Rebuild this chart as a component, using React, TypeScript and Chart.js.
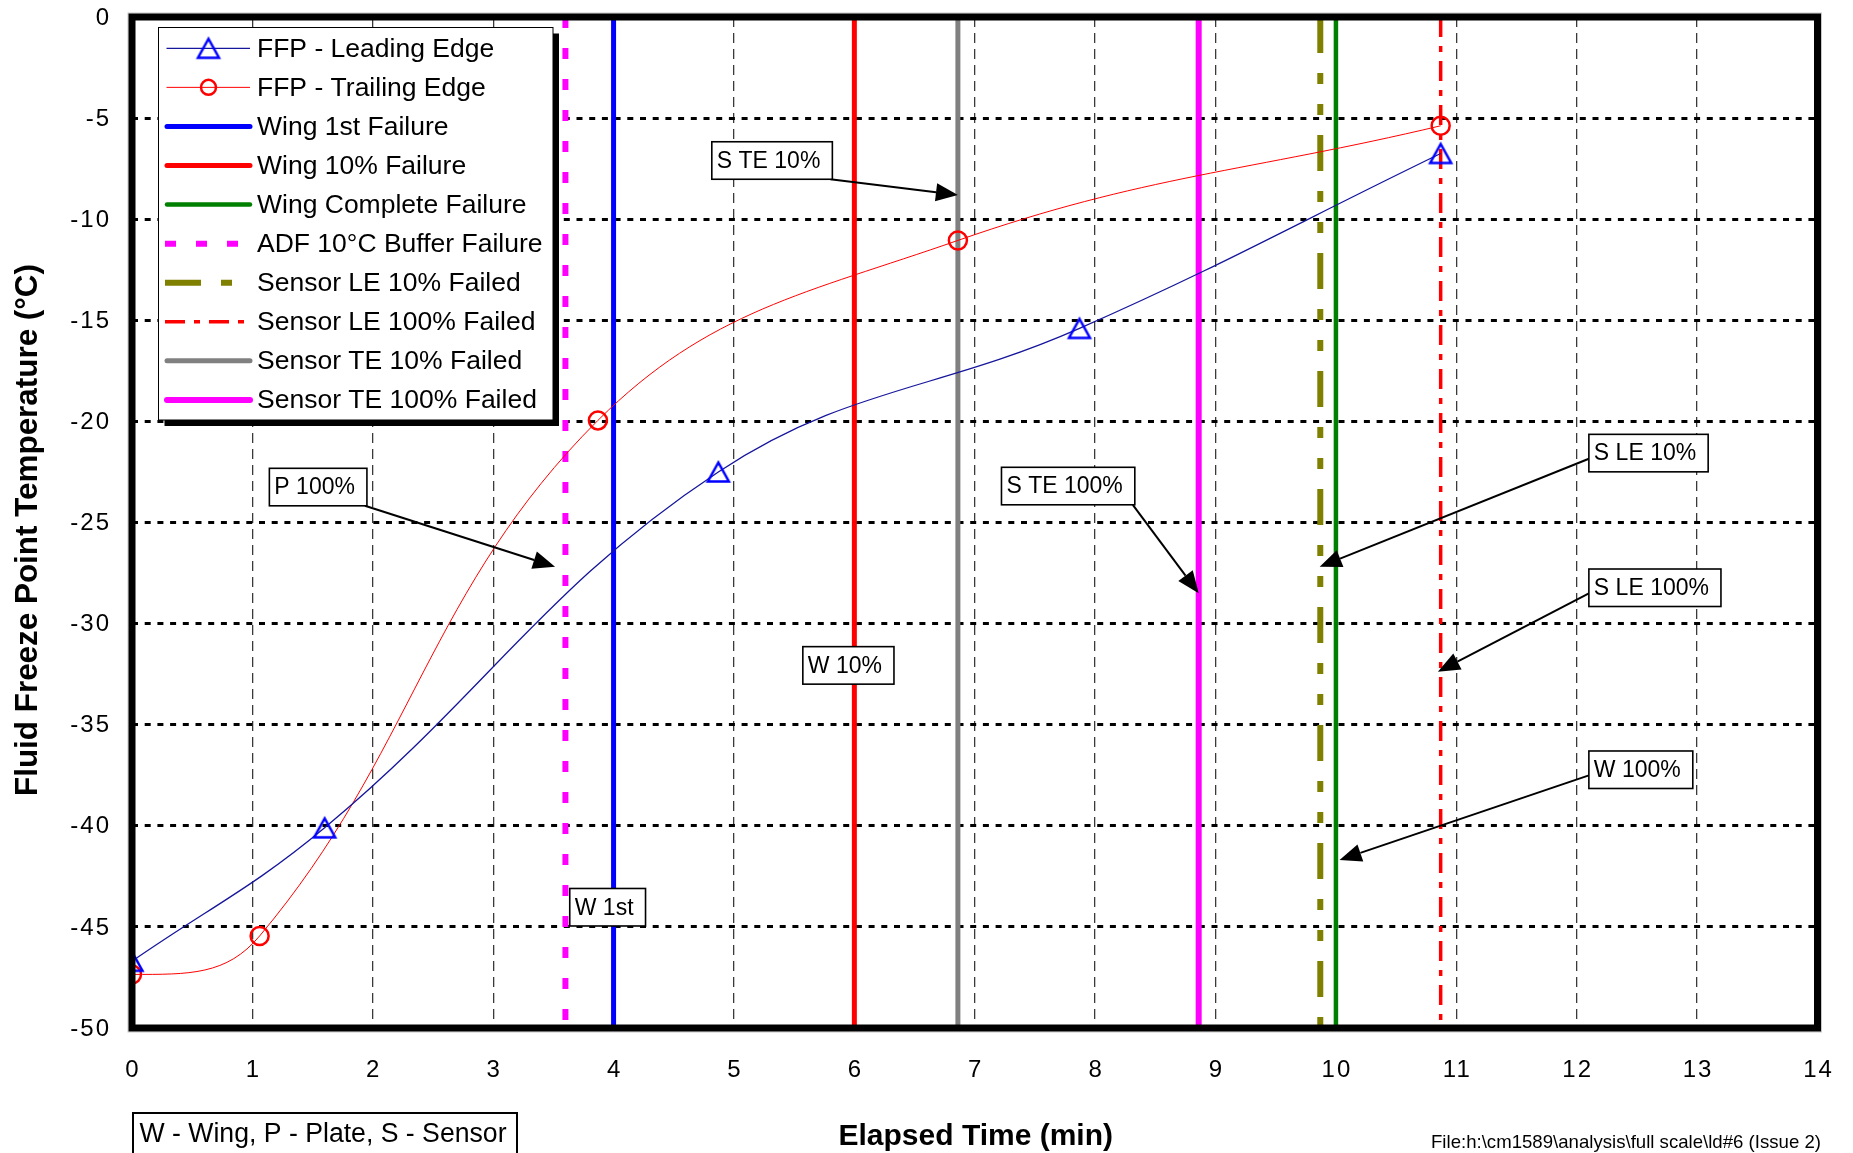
import React, { useEffect, useRef } from 'react';
import { Chart, registerables } from 'chart.js';

Chart.register(...registerables);

// ---------- data ----------
const leTime = [0, 1.6, 4.87, 7.87, 10.87];
const leFfp = [-46.7, -40.1, -22.5, -15.4, -6.75];
const teTime = [0, 1.06, 3.87, 6.86, 10.87];
const teFfp = [-47.35, -45.45, -19.95, -11.05, -5.38];

const seriesNames = ['FFP - Leading Edge', 'FFP - Trailing Edge'];

const eventNames = [
  'Wing 1st Failure',
  'Wing 10% Failure',
  'Wing Complete Failure',
  'ADF 10°C Buffer Failure',
  'Sensor LE 10% Failed',
  'Sensor LE 100% Failed',
  'Sensor TE 10% Failed',
  'Sensor TE 100% Failed',
];
const eventTimes = [4.0, 6.0, 10.0, 3.6, 9.87, 10.87, 6.86, 8.86];

const xTicks = [0, 1, 2, 3, 4, 5, 6, 7, 8, 9, 10, 11, 12, 13, 14];
const yTicks = [0, -5, -10, -15, -20, -25, -30, -35, -40, -45, -50];

const noteLabels = ['S TE 10%', 'P 100%', 'W 1st', 'W 10%', 'S TE 100%', 'S LE 10%', 'S LE 100%', 'W 100%'];
const noteBoxX = [4.816, 1.141, 3.636, 5.572, 7.222, 12.101, 12.101, 12.101];
const noteBoxY = [-6.17, -22.32, -43.1, -31.14, -22.27, -20.64, -27.3, -36.3];
const noteTipX: (number | null)[] = [6.86, 3.514, null, null, 8.86, 9.865, 10.847, 10.03];
const noteTipY: (number | null)[] = [-8.8, -27.19, null, null, -28.5, -27.19, -32.38, -41.69];

const xTitle = 'Elapsed Time (min)';
const yTitle = 'Fluid Freeze Point Temperature (°C)';
const keyNote = 'W - Wing, P - Plate, S - Sensor';
const fileNote = 'File:h:\\cm1589\\analysis\\full scale\\ld#6 (Issue 2)';

// ---------- styles ----------
const FONT = "'Liberation Sans', Arial, sans-serif";
const LE_LINE = '#16169c';
const TE_LINE = '#ff0000';
const eventColors = ['#0000ff', '#ff0000', '#008000', '#ff00ff', '#808000', '#ff0000', '#808080', '#ff00ff'];
const eventWidths = [5, 5, 4.5, 6, 6, 3.5, 5, 6];
const eventDashes: number[][] = [[], [], [], [11, 20], [36, 20, 11, 20, 11, 20], [20, 9, 6, 9], [], []];

function makeTriangle(): HTMLCanvasElement {
  const c = document.createElement('canvas');
  c.width = 28;
  c.height = 28;
  const g = c.getContext('2d')!;
  g.strokeStyle = '#0000ff';
  g.lineWidth = 2.5;
  g.lineJoin = 'miter';
  g.beginPath();
  g.moveTo(14, 4.5);
  g.lineTo(24.5, 23.5);
  g.lineTo(3.5, 23.5);
  g.closePath();
  g.stroke();
  return c;
}

export default function App() {
  const ref = useRef<HTMLCanvasElement | null>(null);

  useEffect(() => {
    if (!ref.current) return;
    const tri = makeTriangle();
    const yMin = Math.min(...yTicks);
    const yMax = Math.max(...yTicks);

    const datasets: any[] = [
      {
        label: seriesNames[0],
        data: leTime.map((t, i) => ({ x: t, y: leFfp[i] })),
        showLine: true,
        borderColor: LE_LINE,
        borderWidth: 1.3,
        tension: 0.4,
        pointStyle: tri,
        pointRadius: 10,
        _kind: 'le',
      },
      {
        label: seriesNames[1],
        data: teTime.map((t, i) => ({ x: t, y: teFfp[i] })),
        showLine: true,
        borderColor: TE_LINE,
        borderWidth: 1,
        tension: 0.4,
        pointStyle: 'circle',
        pointRadius: 9,
        pointBorderWidth: 2.5,
        pointBorderColor: '#ff0000',
        pointBackgroundColor: 'rgba(0,0,0,0)',
        _kind: 'te',
      },
      ...eventNames.map((n, i) => ({
        label: n,
        data: [
          { x: eventTimes[i], y: yMax },
          { x: eventTimes[i], y: yMin },
        ],
        showLine: true,
        borderColor: eventColors[i],
        borderWidth: eventWidths[i],
        borderDash: eventDashes[i],
        borderCapStyle: 'butt',
        pointRadius: 0,
        _kind: 'event',
        _idx: i,
      })),
    ];

    const overlay = {
      id: 'overlay',
      beforeDraw(chart: any) {
        const ctx = chart.ctx;
        ctx.save();
        ctx.fillStyle = '#ffffff';
        ctx.fillRect(0, 0, chart.width, chart.height);
        ctx.restore();
      },
      beforeDatasetsDraw(chart: any) {
        // Excel-like smoothing: the trailing-edge curve leaves its first point horizontally
        const meta = chart.getDatasetMeta(1);
        if (meta && meta.dataset && meta.data.length > 1) {
          meta.dataset.updateControlPoints(chart.chartArea, 'x');
          const p0 = meta.data[0];
          const p1 = meta.data[1];
          p0.cp2y = p0.y;
          p0.cp2x = p0.x + (p1.x - p0.x) * 0.45;
          p1.cp1y = Math.max(p1.cp1y, p0.y - 2);
        }
      },
      afterDraw(chart: any) {
        const ctx: CanvasRenderingContext2D = chart.ctx;
        const a = chart.chartArea;
        const xs = chart.scales.x;
        const ys = chart.scales.y;
        ctx.save();

        // annotations
        ctx.font = `23px ${FONT}`;
        ctx.textBaseline = 'middle';
        ctx.textAlign = 'left';
        noteLabels.forEach((lab, i) => {
          const left = xs.getPixelForValue(noteBoxX[i]);
          const top = ys.getPixelForValue(noteBoxY[i]);
          const w = ctx.measureText(lab).width + 17;
          const h = 37.5;
          const tx = noteTipX[i];
          const ty = noteTipY[i];
          if (tx !== null && ty !== null) {
            const px = xs.getPixelForValue(tx);
            const py = ys.getPixelForValue(ty);
            let sx: number, sy: number;
            if (px < left) {
              sx = left;
              sy = top + h * 0.65;
            } else {
              sx = left + w - 2;
              sy = top + h;
            }
            const ang = Math.atan2(py - sy, px - sx);
            const L = 22, W = 9;
            const bx = px - L * Math.cos(ang);
            const by = py - L * Math.sin(ang);
            ctx.strokeStyle = '#000';
            ctx.lineWidth = 2;
            ctx.setLineDash([]);
            ctx.beginPath();
            ctx.moveTo(sx, sy);
            ctx.lineTo(bx, by);
            ctx.stroke();
            ctx.fillStyle = '#000';
            ctx.beginPath();
            ctx.moveTo(px, py);
            ctx.lineTo(bx - W * Math.sin(ang), by + W * Math.cos(ang));
            ctx.lineTo(bx + W * Math.sin(ang), by - W * Math.cos(ang));
            ctx.closePath();
            ctx.fill();
          }
          ctx.fillStyle = '#fff';
          ctx.fillRect(left, top, w, h);
          ctx.strokeStyle = '#000';
          ctx.lineWidth = 1.6;
          ctx.strokeRect(left, top, w, h);
          ctx.fillStyle = '#000';
          ctx.fillText(lab, left + 5, top + h / 2 + 1);
        });

        // legend
        const lx = 158.5, ly = 27.5, lw = 394.5, lh = 392.5;
        ctx.fillStyle = '#000';
        ctx.fillRect(lx + 6, ly + 6, lw, lh);
        ctx.fillStyle = '#fff';
        ctx.fillRect(lx, ly, lw, lh);
        ctx.strokeStyle = '#000';
        ctx.lineWidth = 1;
        ctx.strokeRect(lx, ly, lw, lh);
        ctx.font = `26.5px ${FONT}`;
        ctx.textBaseline = 'middle';
        chart.data.datasets.forEach((ds: any, i: number) => {
          const y = 48.3 + i * 39.07;
          ctx.save();
          if (ds._kind === 'event') {
            ctx.strokeStyle = ds.borderColor;
            ctx.lineWidth = ds.borderWidth;
            const dash = ds.borderDash || [];
            ctx.setLineDash(dash);
            ctx.lineCap = dash.length ? 'butt' : 'round';
            ctx.beginPath();
            ctx.moveTo(dash.length ? 165 : 167, y);
            ctx.lineTo(dash.length ? 252 : 250, y);
            ctx.stroke();
          } else {
            ctx.strokeStyle = ds.borderColor;
            ctx.lineWidth = ds.borderWidth;
            ctx.beginPath();
            ctx.moveTo(166.5, y);
            ctx.lineTo(250, y);
            ctx.stroke();
            if (ds._kind === 'le') {
              ctx.drawImage(tri, 208.5 - tri.width / 2, y - tri.height / 2);
            } else {
              ctx.strokeStyle = '#ff0000';
              ctx.lineWidth = 2.5;
              ctx.beginPath();
              ctx.arc(208.5, y, 7.5, 0, Math.PI * 2);
              ctx.stroke();
            }
          }
          ctx.restore();
          ctx.fillStyle = '#000';
          ctx.textAlign = 'left';
          ctx.fillText(ds.label, 257, y + 1, 290);
        });

        // frame
        ctx.setLineDash([]);
        ctx.strokeStyle = '#c8c8c8';
        ctx.lineWidth = 1;
        ctx.strokeRect(a.left - 4, a.top - 4, a.right - a.left + 8, a.bottom - a.top + 8);
        ctx.strokeStyle = '#000';
        ctx.lineWidth = 7;
        ctx.strokeRect(a.left, a.top, a.right - a.left, a.bottom - a.top);

        // tick labels
        ctx.fillStyle = '#000';
        ctx.font = `24px ${FONT}`;
        (ctx as any).letterSpacing = '2px';
        ctx.textBaseline = 'middle';
        ctx.textAlign = 'right';
        yTicks.forEach((v) => {
          ctx.fillText(String(v), 111, ys.getPixelForValue(v) + 1);
        });
        ctx.textAlign = 'center';
        xTicks.forEach((v) => {
          ctx.fillText(String(v), xs.getPixelForValue(v) + 1, 1070);
        });
        (ctx as any).letterSpacing = '0px';

        // axis titles
        ctx.font = `bold 30px ${FONT}`;
        ctx.textAlign = 'center';
        ctx.fillText(xTitle, (a.left + a.right) / 2 + 1, 1137, 282);
        ctx.save();
        ctx.translate(28, 530);
        ctx.rotate(-Math.PI / 2);
        ctx.font = `bold 31.5px ${FONT}`;
        ctx.fillText(yTitle, 0, 0, 532);
        ctx.restore();

        // key note box
        ctx.strokeStyle = '#000';
        ctx.lineWidth = 2;
        ctx.strokeRect(133, 1113, 384, 60);
        ctx.font = `27px ${FONT}`;
        ctx.textAlign = 'left';
        ctx.fillText(keyNote, 139.5, 1135, 367);

        // file note
        ctx.font = `19px ${FONT}`;
        ctx.textAlign = 'right';
        ctx.fillText(fileNote, 1821, 1143, 390);

        ctx.restore();
      },
    };

    const chart = new Chart(ref.current, {
      type: 'scatter',
      data: { datasets },
      options: {
        responsive: false,
        animation: false,
        devicePixelRatio: 1,
        layout: { padding: { top: 17, right: 35.5, left: 0, bottom: 0 } },
        plugins: { legend: { display: false }, tooltip: { enabled: false } },
        scales: {
          x: {
            type: 'linear',
            min: xTicks[0],
            max: xTicks[xTicks.length - 1],
            afterFit: (s: any) => {
              s.height = 125;
            },
            ticks: { stepSize: 1, display: false },
            grid: {
              drawTicks: false,
              color: (c: any) =>
                c.tick && (c.tick.value === xTicks[0] || c.tick.value === xTicks[xTicks.length - 1])
                  ? 'rgba(0,0,0,0)'
                  : '#3a3a3a',
              lineWidth: 1.3,
            },
            border: { display: false, dash: [10, 6] },
          },
          y: {
            type: 'linear',
            min: Math.min(...yTicks),
            max: Math.max(...yTicks),
            afterFit: (s: any) => {
              s.width = 132;
            },
            ticks: { stepSize: 5, display: false },
            grid: {
              drawTicks: false,
              color: (c: any) =>
                c.tick && (c.tick.value === 0 || c.tick.value === -50) ? 'rgba(0,0,0,0)' : '#000000',
              lineWidth: 3,
            },
            border: { display: false, dash: [6, 6.7] },
          },
        },
      } as any,
      plugins: [overlay],
    });

    return () => chart.destroy();
  }, []);

  return (
    <div style={{ position: 'absolute', left: 0, top: 0, width: 1853, height: 1153, background: '#fff' }}>
      <canvas ref={ref} width={1853} height={1153} style={{ width: 1853, height: 1153, display: 'block' }} />
    </div>
  );
}
